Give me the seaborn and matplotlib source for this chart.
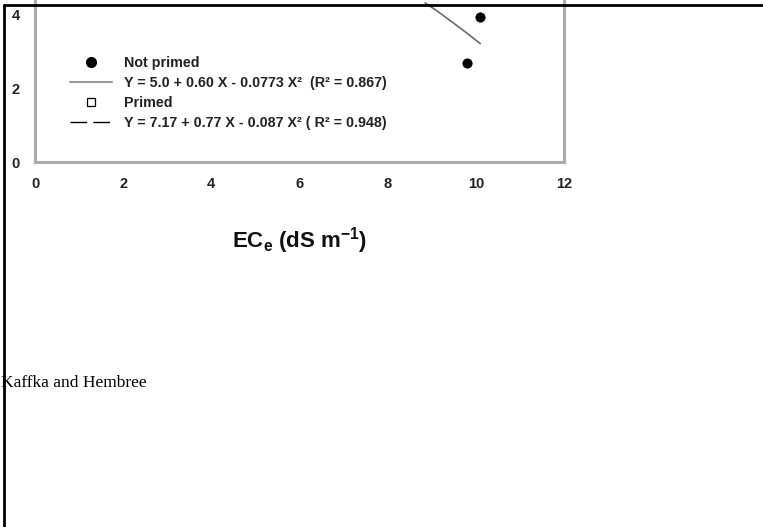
import matplotlib
matplotlib.use('Agg')
import matplotlib.pyplot as plt
import seaborn as sns
import pandas as pd
from matplotlib.lines import Line2D

# data
not_primed_x = [10.1, 9.8]
not_primed_y = [3.92, 2.68]
# visible piece of the fitted curve for not primed seed
fit_x = [8.85, 9.1, 9.5, 9.8, 10.1]
fit_y = [4.3, 4.1, 3.75, 3.48, 3.2]

x_ticks = [0, 2, 4, 6, 8, 10, 12]
y_ticks = [0, 2, 4]

legend_labels = ['Not primed',
                 'Y = 5.0 + 0.60 X - 0.0773 X\u00b2  (R\u00b2 = 0.867)',
                 'Primed',
                 'Y = 7.17 + 0.77 X - 0.087 X\u00b2 ( R\u00b2 = 0.948)']

sns.set_style('white')
plt.rcParams['font.family'] = ['Liberation Sans', 'DejaVu Sans']
plt.rcParams['mathtext.fontset'] = 'custom'
plt.rcParams['mathtext.rm'] = 'Liberation Sans:bold'
plt.rcParams['mathtext.it'] = 'Liberation Sans:bold'

fig = plt.figure(figsize=(7.63, 5.27), dpi=100)
W, H = 763, 527
# axes goes above the top of the picture (it is a cropped page)
ax = fig.add_axes([35 / W, (H - 162) / H, (564 - 35) / W, 185 / H])

df_pts = pd.DataFrame({'x': not_primed_x, 'y': not_primed_y})
df_fit = pd.DataFrame({'x': fit_x, 'y': fit_y})
sns.lineplot(data=df_fit, x='x', y='y', ax=ax, color='#6a6a6a', linewidth=1.2)
sns.scatterplot(data=df_pts, x='x', y='y', ax=ax, color='black', marker='o', s=45,
                edgecolor='black', zorder=5)

ax.set_xlim(0, 12)
ax.set_ylim(0, 5)
ax.set_xticks(x_ticks)
ax.set_yticks(y_ticks)
ax.set_xticklabels([str(t) for t in x_ticks], fontsize=10.5, fontweight='bold', color='#222222')
ax.set_yticklabels([str(t) for t in y_ticks], fontsize=10.5, fontweight='bold', color='#222222')
ax.tick_params(axis='both', length=3, width=1, color='#999999', direction='out', pad=8)
for s in ax.spines.values():
    s.set_color('#aaaaaa')
    s.set_linewidth(2.2)

ax.set_xlabel(r'EC$_{\mathrm{e}}$ (dS m$^{\mathrm{-1}}$)', fontsize=16, fontweight='bold',
              labelpad=24, color='#111111')
ax.set_ylabel('')

handles = [Line2D([], [], marker='o', color='black', linestyle='none', markersize=7),
           Line2D([], [], color='#999999', linewidth=1.5),
           Line2D([], [], marker='s', color='black', markerfacecolor='white', linestyle='none',
                  markersize=6, markeredgewidth=0.9),
           Line2D([], [], color='black', linewidth=1.0, dashes=(12, 4.5))]
leg = ax.legend(handles, legend_labels, loc='upper left', bbox_to_anchor=(63 / W, 1 - 49 / H),
                bbox_transform=fig.transFigure, frameon=False, handlelength=2.9,
                handletextpad=0.85, labelspacing=0.42, borderpad=0,
                prop={'family': ['Liberation Sans Narrow', 'Liberation Sans'],
                      'weight': 'bold', 'size': 10.3})
for t in leg.get_texts():
    t.set_color('#222222')

# page frame and caption text from the scan
fig.add_artist(Line2D([4 / W, 1], [1 - 5 / H, 1 - 5 / H], transform=fig.transFigure,
                      color='black', linewidth=2, zorder=10))
fig.add_artist(Line2D([4 / W, 4 / W], [0, 1 - 5 / H], transform=fig.transFigure,
                      color='black', linewidth=2, zorder=10))
fig.text(1 / W, 1 - 383 / H, 'Kaffka and Hembree', family=['Liberation Serif', 'DejaVu Serif'],
         fontsize=12.5, va='center', ha='left', color='black', zorder=1)

fig.savefig('out.png', dpi=100)
